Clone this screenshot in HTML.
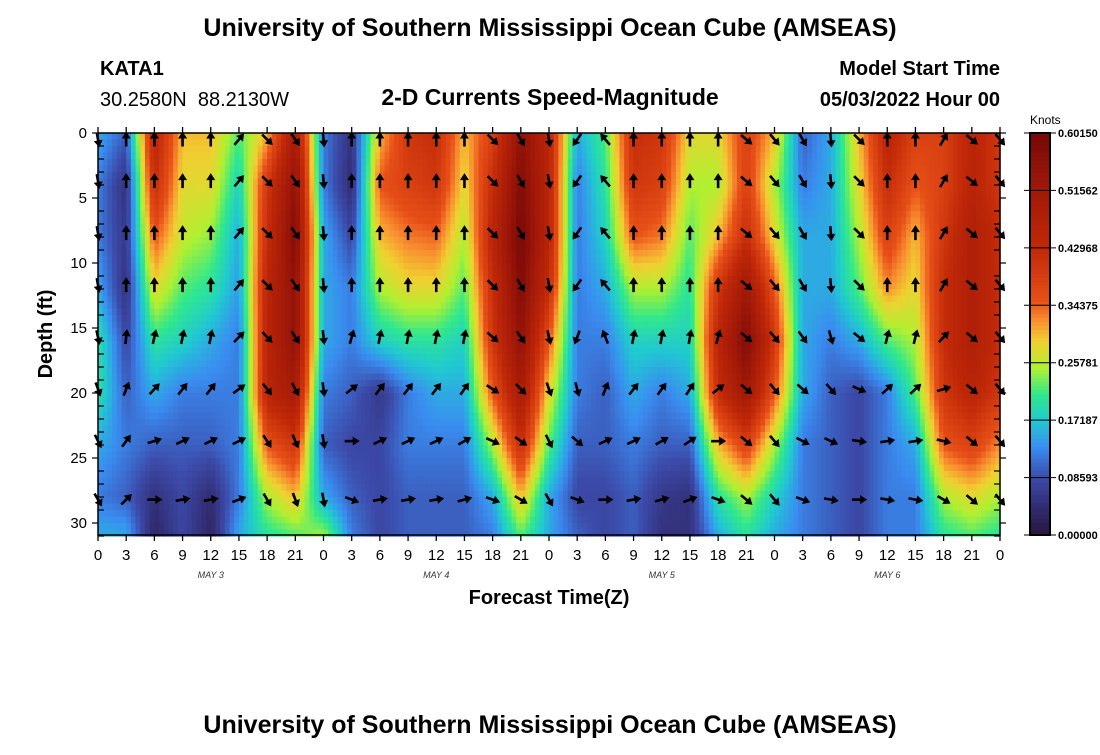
<!DOCTYPE html>
<html><head><meta charset="utf-8"><style>
body{margin:0;background:#fff;width:1100px;height:750px;overflow:hidden;font-family:"Liberation Sans",sans-serif}
svg text{font-family:"Liberation Sans",sans-serif}
</style></head><body>
<svg id="chart" width="1100" height="750" xmlns="http://www.w3.org/2000/svg">
<text x="550" y="36" font-size="25" font-weight="bold" text-anchor="middle">University of Southern Mississippi Ocean Cube (AMSEAS)</text>
<text x="100" y="75" font-size="20" font-weight="bold">KATA1</text>
<text x="100" y="106" font-size="20" style="white-space:pre">30.2580N  88.2130W</text>
<text x="550" y="105" font-size="23" font-weight="bold" text-anchor="middle">2-D Currents Speed-Magnitude</text>
<text x="1000" y="75" font-size="20" font-weight="bold" text-anchor="end">Model Start Time</text>
<text x="1000" y="106" font-size="20" font-weight="bold" text-anchor="end">05/03/2022 Hour 00</text>
<g id="heat"></g>
<g id="arrows"></g>
<rect x="98" y="133" width="902" height="402" fill="none" stroke="#000" stroke-width="1.5"/>
<g id="axes"></g>
<text transform="translate(52,334) rotate(-90)" font-size="20" font-weight="bold" text-anchor="middle">Depth (ft)</text>
<text x="549" y="604" font-size="20" font-weight="bold" text-anchor="middle">Forecast Time(Z)</text>
<g id="cbar"></g>
<text x="1030" y="124" font-size="12">Knots</text>
<text x="550" y="733" font-size="25" font-weight="bold" text-anchor="middle">University of Southern Mississippi Ocean Cube (AMSEAS)</text>
</svg>
<script>
const times=[0,3,6,9,12,15,18,21,24,27,30,33,36,39,42,45,48,51,54,57,60,63,66,69,72,75,78,81,84,87,90,93,96];
const depths=[0,4,8,12,16,20,24,28,31];
const speeds=[
[0.15,0.12,0.12,0.15,0.2,0.2,0.15,0.12,0.15],
[0.1,0.05,0.06,0.05,0.08,0.1,0.12,0.1,0.15],
[0.45,0.42,0.35,0.28,0.2,0.15,0.1,0.05,0.03],
[0.3,0.28,0.26,0.22,0.18,0.12,0.1,0.08,0.08],
[0.3,0.28,0.24,0.2,0.15,0.12,0.1,0.04,0.03],
[0.22,0.18,0.15,0.14,0.12,0.12,0.12,0.12,0.15],
[0.3,0.4,0.42,0.45,0.45,0.45,0.35,0.25,0.2],
[0.5,0.55,0.58,0.55,0.55,0.5,0.4,0.3,0.22],
[0.12,0.12,0.15,0.15,0.15,0.12,0.1,0.15,0.25],
[0.05,0.04,0.08,0.12,0.12,0.1,0.08,0.1,0.12],
[0.3,0.35,0.3,0.25,0.18,0.06,0.08,0.08,0.08],
[0.4,0.38,0.33,0.28,0.2,0.12,0.12,0.1,0.1],
[0.42,0.4,0.34,0.28,0.2,0.15,0.12,0.1,0.1],
[0.3,0.28,0.25,0.22,0.18,0.15,0.12,0.1,0.1],
[0.38,0.42,0.45,0.42,0.4,0.35,0.25,0.15,0.12],
[0.55,0.58,0.6,0.58,0.55,0.5,0.42,0.3,0.22],
[0.45,0.45,0.45,0.42,0.35,0.28,0.22,0.15,0.15],
[0.15,0.12,0.12,0.12,0.12,0.12,0.1,0.08,0.1],
[0.22,0.2,0.18,0.15,0.12,0.1,0.1,0.08,0.08],
[0.42,0.4,0.35,0.25,0.18,0.15,0.12,0.1,0.1],
[0.4,0.38,0.33,0.25,0.18,0.12,0.1,0.06,0.05],
[0.28,0.25,0.22,0.2,0.18,0.15,0.1,0.05,0.05],
[0.28,0.25,0.3,0.4,0.45,0.42,0.3,0.2,0.15],
[0.38,0.38,0.42,0.52,0.58,0.52,0.38,0.25,0.2],
[0.3,0.25,0.28,0.35,0.4,0.35,0.25,0.18,0.15],
[0.1,0.12,0.15,0.15,0.15,0.15,0.12,0.12,0.12],
[0.15,0.15,0.15,0.15,0.12,0.1,0.1,0.1,0.1],
[0.3,0.28,0.25,0.22,0.15,0.08,0.08,0.08,0.08],
[0.45,0.42,0.38,0.32,0.22,0.12,0.12,0.12,0.12],
[0.38,0.35,0.3,0.28,0.25,0.22,0.15,0.12,0.12],
[0.38,0.38,0.4,0.42,0.42,0.4,0.35,0.25,0.2],
[0.45,0.45,0.48,0.48,0.48,0.45,0.38,0.28,0.22],
[0.4,0.4,0.42,0.42,0.42,0.4,0.32,0.25,0.2]];
const arrowDepths=[0.5,3.7,7.7,11.7,15.7,19.7,23.7,28.2];
const dirShallow=[170,0,0,0,0,40,135,145,175,0,0,0,0,0,135,150,170,215,320,0,0,0,0,130,140,150,175,135,0,0,30,130,140];
const dirDeep=[150,45,90,80,80,70,150,160,170,110,80,80,80,75,110,120,150,110,90,80,75,70,110,130,140,110,100,90,100,100,120,130,140];
const cbTicks=["0.60150","0.51562","0.42968","0.34375","0.25781","0.17187","0.08593","0.00000"];
const xTicks=["0","3","6","9","12","15","18","21","0","3","6","9","12","15","18","21","0","3","6","9","12","15","18","21","0","3","6","9","12","15","18","21","0"];
const dayLabels=["MAY 3","MAY 4","MAY 5","MAY 6"];
const vmax=0.6015;
const NS="http://www.w3.org/2000/svg";
const X=t=>98+t*902/96, Y=d=>133+d*13;
const stops=[[0,[40,22,60]],[0.043,[50,45,115]],[0.086,[60,75,170]],[0.13,[58,140,240]],[0.17,[32,200,210]],[0.21,[48,232,140]],[0.25,[176,240,48]],[0.29,[240,208,48]],[0.32,[248,144,48]],[0.35,[232,80,24]],[0.43,[192,40,8]],[0.52,[160,24,8]],[0.6015,[120,8,8]]];
function cmap(v){v=Math.max(0,Math.min(vmax,v));
 for(let i=0;i<stops.length-1;i++){if(v<=stops[i+1][0]){const f=(v-stops[i][0])/(stops[i+1][0]-stops[i][0]);const a=stops[i][1],b=stops[i+1][1];
 return `rgb(${Math.round(a[0]+(b[0]-a[0])*f)},${Math.round(a[1]+(b[1]-a[1])*f)},${Math.round(a[2]+(b[2]-a[2])*f)})`;}}
 return 'rgb(120,8,8)';}
function mk(tag,attrs,parent){const e=document.createElementNS(NS,tag);for(const k in attrs)e.setAttribute(k,attrs[k]);parent.appendChild(e);return e;}
function interp(arr,v){for(let i=0;i<arr.length-1;i++){if(v<=arr[i+1])return [i,(v-arr[i])/(arr[i+1]-arr[i])];}return [arr.length-2,1];}
function val(t,d){const [i,fi]=interp(times,t),[j,fj]=interp(depths,d);
 const a=speeds[i][j]*(1-fj)+speeds[i][j+1]*fj, b=speeds[i+1][j]*(1-fj)+speeds[i+1][j+1]*fj;return a*(1-fi)+b*fi;}
const heat=document.getElementById('heat');
const dt=0.5, dd=0.5;
for(let t=0;t<96;t+=dt){for(let d=0;d<31;d+=dd){
 const r=mk('rect',{x:X(t).toFixed(2),y:Y(d).toFixed(2),width:(X(t+dt)-X(t)+0.6).toFixed(2),height:(Y(d+dd)-Y(d)+0.6).toFixed(2),fill:cmap(val(t+dt/2,d+dd/2))},heat);
 
 
}}
const ar=document.getElementById('arrows');
times.forEach((t,i)=>{arrowDepths.forEach((d,k)=>{
 const f=Math.min(1,Math.max(0,(d-14)/12));
 let a1=dirShallow[i],a2=dirDeep[i];let diff=((a2-a1+540)%360)-180;const ang=a1+diff*f;
 const g=mk('g',{transform:`translate(${X(t)},${Y(d)}) rotate(${ang})`},ar);
 
 
 mk('line',{x1:0,y1:7,x2:0,y2:-3,stroke:'#000','stroke-width':2.6},g);
 mk('polygon',{points:'0,-8 -4.5,-1 4.5,-1',fill:'#000'},g);
});});
const ax=document.getElementById('axes');
xTicks.forEach((lab,i)=>{const x=X(times[i]);
 mk('line',{x1:x,y1:127,x2:x,y2:133,stroke:'#000','stroke-width':1.3},ax);
 mk('line',{x1:x,y1:535,x2:x,y2:541,stroke:'#000','stroke-width':1.3},ax);
 const tx=mk('text',{x:x,y:560,'font-size':15,'text-anchor':'middle'},ax);tx.textContent=lab;
 
 
});
dayLabels.forEach((lab,i)=>{const tx=mk('text',{x:X(12+24*i),y:578,'font-size':9,'font-style':'italic','font-family':'Liberation Mono, monospace','text-anchor':'middle',fill:'#333'},ax);tx.textContent=lab;
 
 });
for(let d=0;d<=31;d++){const y=Y(d);const maj=d%5==0;
 mk('line',{x1:maj?92:98,y1:y,x2:maj?98:104,y2:y,stroke:'#000','stroke-width':1.2},ax);
 mk('line',{x1:maj?1000:994,y1:y,x2:maj?1006:1000,y2:y,stroke:'#000','stroke-width':1.2},ax);
 if(maj){const tx=mk('text',{x:87,y:y+5,'font-size':15,'text-anchor':'end'},ax);tx.textContent=d;
 
 }}
const cb=document.getElementById('cbar');
const n=100;for(let i=0;i<n;i++){const y=133+i*402/n;mk('rect',{x:1030,y:y,width:20,height:402/n+0.6,fill:cmap(vmax*(1-(i+0.5)/n))},cb);}
mk('rect',{x:1030,y:133,width:20,height:402,fill:'none',stroke:'#000','stroke-width':2},cb);
cbTicks.forEach((lab,i)=>{const y=133+i*402/7;
 mk('line',{x1:1024,y1:y,x2:1056,y2:y,stroke:'#000','stroke-width':1},cb);
 const tx=mk('text',{x:1058,y:y+4,'font-size':11,'font-weight':'bold'},cb);tx.textContent=lab;
 
 });
</script>
</body></html>
